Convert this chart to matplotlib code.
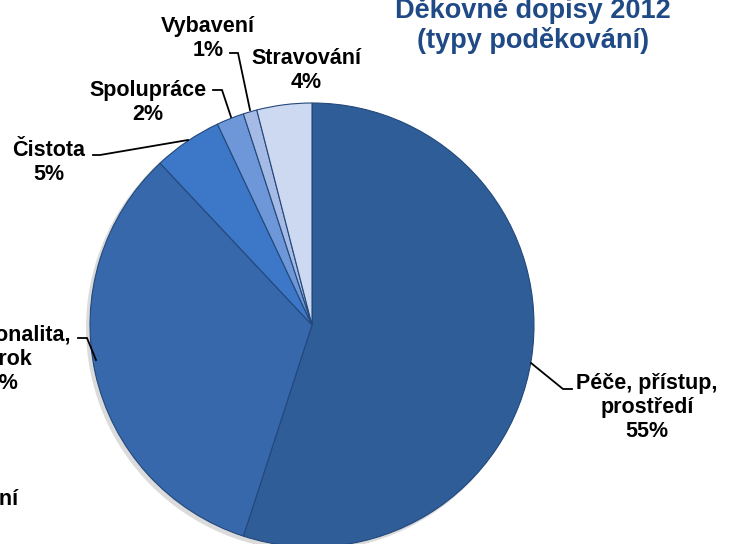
import matplotlib.pyplot as plt
from matplotlib.patches import Circle

# Data
kategorie = ['Péče, přístup,\nprostředí', 'Profesionalita,\npokrok', 'Čistota',
             'Spolupráce', 'Vybavení', 'Stravování']
podil = [55, 33, 5, 2, 1, 4]
barvy = ['#2e5d98', '#3768ab', '#3d78c8', '#6d97d9', '#a5bbe6', '#cdd9f0']
ostatni = 'Ostatní'

# Pozice popisků (střed x, účaří posledního řádku y v pixelech shora)
pozice = [(647, 437), (-3.5, 389), (49, 180), (148, 120), (208, 56), (306, 88)]
# Vodicí čáry (None = bez čáry)
vodici = [
    [(531, 363), (563, 389), (572, 389)],
    [(78, 338), (87, 338), (96, 360)],
    [(93, 155), (100, 155), (188, 140)],
    [(213, 90), (222, 90), (231, 117)],
    [(230, 53), (238, 53), (250, 110)],
    None,
]

W, H = 732, 544
plt.rcParams['font.family'] = ['Liberation Sans', 'DejaVu Sans']

fig = plt.figure(figsize=(W / 100, H / 100), dpi=100)
ax = fig.add_axes([0, 0, 1, 1])

# jemný stín pod koláčem
ax.add_patch(Circle((309, H - 328), 223, color='#b8b8b8', alpha=0.5, lw=0))

ax.pie(podil, colors=barvy, startangle=90, counterclock=False,
       center=(312, H - 325), radius=222, frame=True,
       wedgeprops=dict(edgecolor='#23487a', linewidth=0.8))

for kat, p, (x, y) in zip(kategorie, podil, pozice):
    ax.text(x, H - y, f'{kat}\n{p}%', ha='center', va='baseline',
            multialignment='center', fontsize=15.5, fontweight='bold',
            color='black', linespacing=1.2)

for cara in vodici:
    if cara is None:
        continue
    xs = [b[0] for b in cara]
    ys = [H - b[1] for b in cara]
    ax.plot(xs, ys, color='black', lw=1.3, solid_joinstyle='miter')

ax.text(18, H - 505, ostatni, ha='right', va='baseline', fontsize=15.5,
        fontweight='bold', color='black')

ax.text(533, H - 48, 'Děkovné dopisy 2012\n(typy poděkování)', ha='center',
        va='baseline', multialignment='center', fontsize=19.5,
        fontweight='bold', color='#1f4a86', linespacing=1.15)

ax.set_xlim(0, W)
ax.set_ylim(0, H)
ax.set_aspect('equal')
ax.axis('off')

plt.savefig('out.png', dpi=100)
